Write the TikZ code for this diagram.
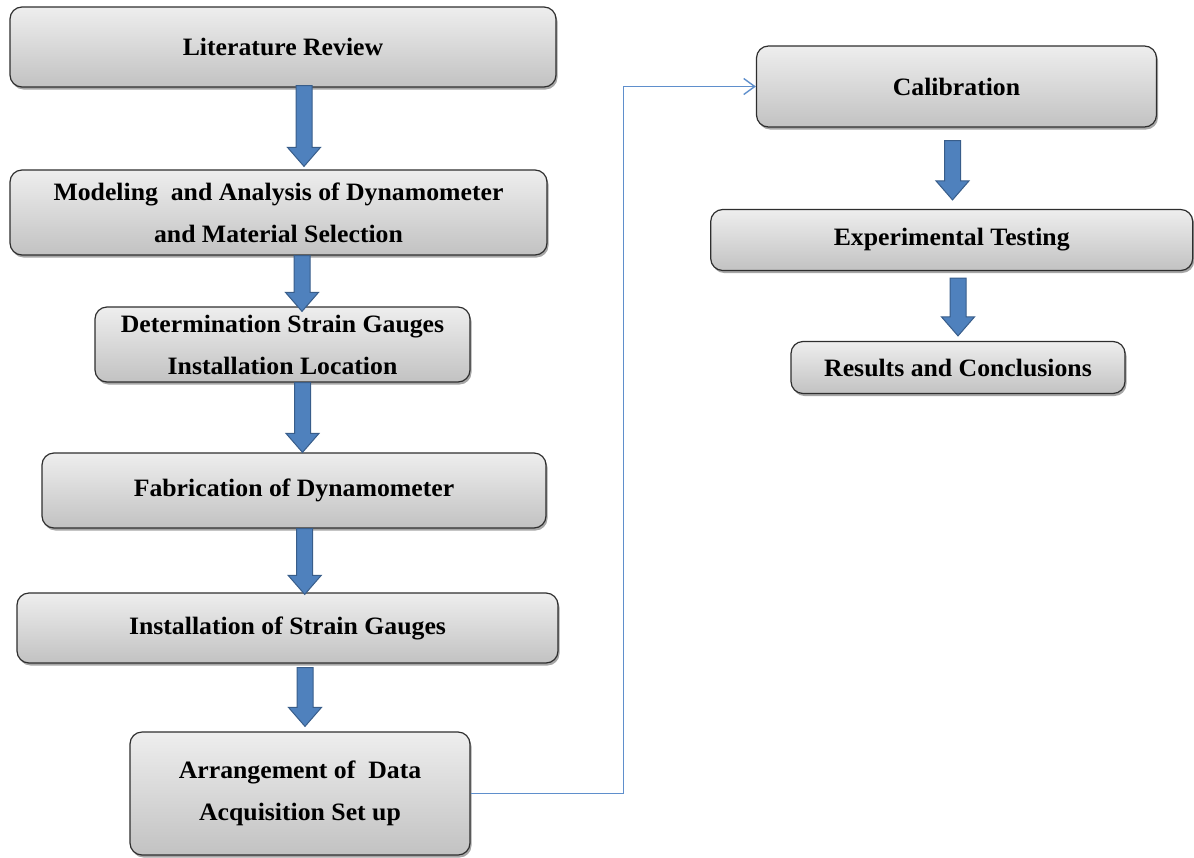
\documentclass[tikz,border=0pt]{standalone}
\usepackage{fontspec}
\setmainfont{Liberation Serif}[FakeStretch=1.03]
\usetikzlibrary{shadows,calc,arrows.meta}
\definecolor{boxtop}{HTML}{EEEEEE}
\definecolor{boxbot}{HTML}{C2C2C2}
\definecolor{boxline}{HTML}{2E2E2E}
\definecolor{arrfill}{HTML}{4F81BD}
\definecolor{arrline}{HTML}{385D8A}
\definecolor{linkblue}{HTML}{5F8FCC}
\newcommand\blockarrow[5]{%
  \path[barrow] let \p1=(#2.south), \p2=(#4.north) in
    ({#1pt-8pt},{\y1-(#3pt)}) -- ({#1pt+8pt},{\y1-(#3pt)})
    -- ({#1pt+8pt},{\y2+(#5pt)+19pt}) -- ({#1pt+16.5pt},{\y2+(#5pt)+19pt})
    -- ({#1pt},{\y2+(#5pt)}) -- ({#1pt-16.5pt},{\y2+(#5pt)+19pt})
    -- ({#1pt-8pt},{\y2+(#5pt)+19pt}) -- cycle;}
\begin{document}
\begin{tikzpicture}[x=1pt,y=-1pt,
  box/.style={draw=boxline, line width=1.2pt, rounded corners=12pt,
    top color=boxtop, bottom color=boxbot,
    drop shadow={shadow xshift=1.5pt, shadow yshift=-2.5pt, opacity=0.35, fill=black},
    align=center, inner sep=0pt,
    font=\bfseries\fontsize{25}{42}\selectfont},
  barrow/.style={fill=arrfill, draw=arrline, line width=1pt, line join=miter},
  link/.style={draw=linkblue, line width=1.4pt,
    -{Straight Barb[length=11pt, width=16pt, line width=1.4pt]}}]
\useasboundingbox (0,0) rectangle (1194,857);

\node[box, minimum width=546pt, minimum height=80pt] (lit) at (283,47)
  {Literature Review};
\node[box, minimum width=537pt, minimum height=85pt] (mod) at (278.5,212.5)
  {Modeling\ \ and Analysis of Dynamometer\\and Material Selection};
\node[box, minimum width=375pt, minimum height=75pt] (det) at (282.5,344.5)
  {Determination Strain Gauges\\Installation Location};
\node[box, minimum width=504pt, minimum height=75pt] (fab) at (294,490.5)
  {Fabrication of Dynamometer};
\node[box, minimum width=541pt, minimum height=70pt] (ins) at (287.5,628)
  {Installation of Strain Gauges};
\node[box, minimum width=340pt, minimum height=123pt] (arr) at (300,793.5)
  {Arrangement of\ \ Data\\Acquisition Set up};
\node[box, minimum width=400pt, minimum height=81pt] (cal) at (956.5,86.5)
  {Calibration};
\node[box, minimum width=482pt, minimum height=61pt] (exp) at (951.7,240)
  {Experimental Testing};
\node[box, minimum width=334pt, minimum height=52pt] (res) at (958,367.5)
  {Results and Conclusions};

\blockarrow{304}{lit}{-2}{mod}{3}
\blockarrow{302}{mod}{0}{det}{-5}
\blockarrow{302.5}{det}{0}{fab}{0}
\blockarrow{304.7}{fab}{0}{ins}{-2}
\blockarrow{305}{ins}{4}{arr}{5}
\blockarrow{952.5}{cal}{13}{exp}{9}
\blockarrow{958}{exp}{7}{res}{5}

\coordinate (bend) at (623.5,0);
\draw[link] (arr.east) -| (bend |- cal.west) -- (cal.west);
\end{tikzpicture}
\end{document}
